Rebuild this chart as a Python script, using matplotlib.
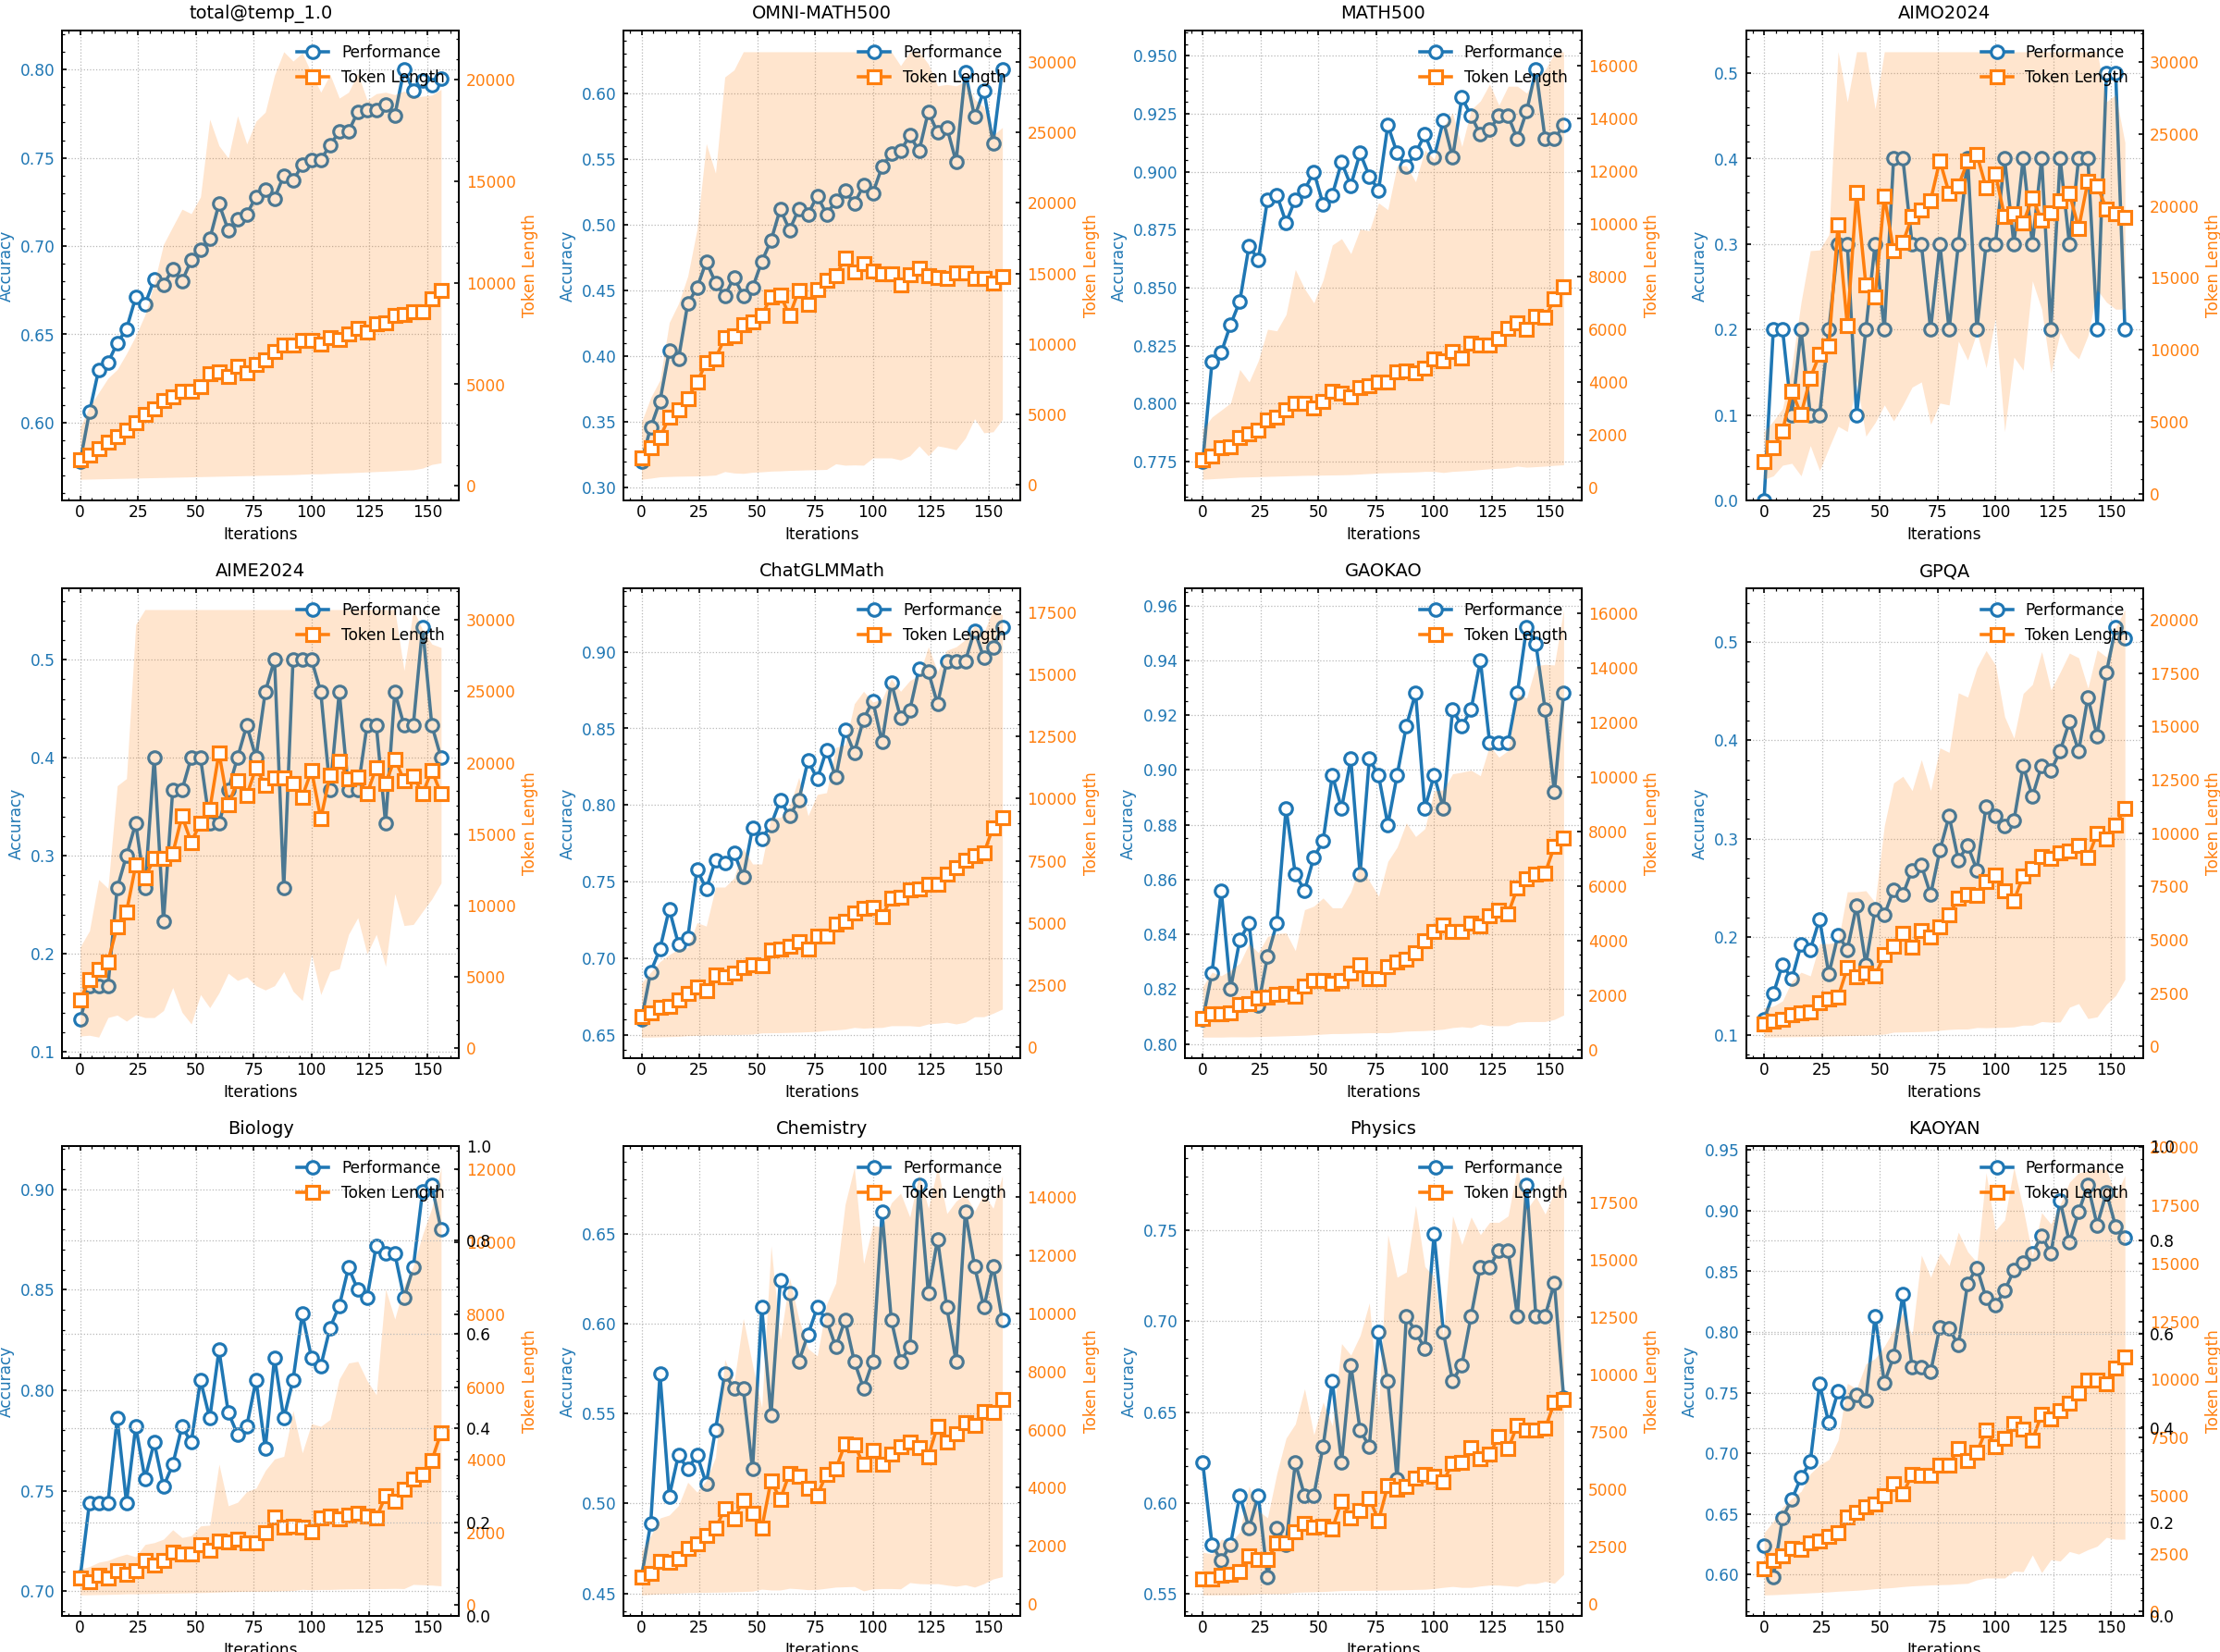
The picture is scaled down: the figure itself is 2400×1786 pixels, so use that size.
import matplotlib
matplotlib.use("Agg")
import matplotlib.pyplot as plt

BLUE = '#1f77b4'
ORANGE = '#ff7f0e'

iterations = [0, 4, 8, 12, 16, 20, 24, 28, 32, 36, 40, 44, 48, 52, 56, 60, 64, 68, 72, 76,
              80, 84, 88, 92, 96, 100, 104, 108, 112, 116, 120, 124, 128, 132, 136, 140, 144, 148, 152, 156]

# total@temp_1.0
acc_total = [0.578, 0.606, 0.630, 0.634, 0.645, 0.653, 0.671, 0.667, 0.681, 0.678, 0.687, 0.680, 0.692, 0.698, 0.704, 0.724, 0.709, 0.715, 0.718, 0.728,
             0.732, 0.727, 0.740, 0.737, 0.746, 0.749, 0.749, 0.757, 0.765, 0.765, 0.776, 0.777, 0.777, 0.780, 0.774, 0.800, 0.788, 0.794, 0.791, 0.795]
tok_total = [1300, 1540, 1820, 2180, 2420, 2770, 3130, 3500, 3780, 4210, 4400, 4680, 4660, 4900, 5530, 5610, 5390, 5870, 5580, 5960,
             6220, 6620, 6950, 6910, 7150, 7170, 7000, 7290, 7210, 7500, 7740, 7570, 7970, 8040, 8380, 8420, 8590, 8590, 9200, 9630]
tok_total_lo = [330, 340, 350, 360, 370, 380, 390, 400, 410, 420, 430, 440, 450, 460, 470, 480, 490, 500, 510, 520,
                530, 540, 550, 560, 580, 600, 600, 620, 640, 650, 670, 690, 710, 730, 750, 780, 800, 880, 1060, 1140]
tok_total_hi = [2880, 3900, 4600, 5300, 5730, 6510, 7380, 8420, 9980, 11880, 12750, 13610, 13390, 14220, 18030, 16730, 16120, 18200, 16820, 17940,
                18380, 20200, 21350, 20890, 21290, 20280, 19360, 20230, 19070, 19360, 20280, 18980, 19290, 19360, 19240, 19420, 19120, 19160, 19220, 19500]

# OMNI-MATH500
acc_omni = [0.320, 0.346, 0.366, 0.404, 0.398, 0.440, 0.452, 0.472, 0.456, 0.446, 0.460, 0.446, 0.452, 0.472, 0.488, 0.512, 0.496, 0.512, 0.508, 0.522,
            0.508, 0.518, 0.526, 0.516, 0.530, 0.524, 0.544, 0.554, 0.556, 0.568, 0.556, 0.586, 0.570, 0.574, 0.548, 0.616, 0.582, 0.602, 0.562, 0.618]
tok_omni = [1950, 2670, 3370, 4800, 5350, 6150, 7270, 8670, 8970, 10420, 10570, 11340, 11540, 11990, 13360, 13490, 11990, 13810, 12810, 13860,
            14490, 14840, 16090, 15110, 15710, 15160, 14960, 14960, 14210, 14890, 15390, 14840, 14710, 14640, 15010, 15010, 14640, 14660, 14310, 14760]
tok_omni_lo = [400, 480, 575, 600, 620, 630, 640, 660, 700, 950, 850, 820, 900, 930, 980, 1000, 1030, 1050, 1070, 1080,
               1100, 1500, 1400, 1420, 1400, 1920, 1920, 1920, 1770, 2070, 2770, 2070, 2770, 2650, 2500, 3320, 4700, 3700, 3770, 4650]
tok_omni_hi = [4450, 6200, 7440, 11520, 12860, 14810, 18110, 24200, 22110, 28930, 29430, 30720, 30720, 30720, 30720, 30720, 30720, 30720, 30720, 30720,
               30720, 30720, 30720, 30720, 30720, 30720, 30720, 30720, 29730, 30720, 30720, 29850, 28300, 28400, 28300, 28600, 27350, 26800, 24800, 25350]

# MATH500
acc_math = [0.775, 0.818, 0.822, 0.834, 0.844, 0.868, 0.862, 0.888, 0.890, 0.878, 0.888, 0.892, 0.900, 0.886, 0.890, 0.904, 0.894, 0.908, 0.898, 0.892,
            0.920, 0.908, 0.902, 0.908, 0.916, 0.906, 0.922, 0.906, 0.932, 0.924, 0.916, 0.918, 0.924, 0.924, 0.914, 0.926, 0.944, 0.914, 0.914, 0.920]
tok_math = [1030, 1200, 1510, 1530, 1870, 2030, 2160, 2560, 2670, 2930, 3170, 3200, 3010, 3250, 3660, 3590, 3440, 3800, 3840, 3980,
            4000, 4380, 4430, 4350, 4510, 4880, 4800, 5150, 4920, 5460, 5390, 5390, 5640, 6020, 6230, 6000, 6480, 6440, 7140, 7630]
tok_math_lo = [300, 320, 340, 360, 380, 390, 400, 410, 420, 430, 440, 450, 455, 460, 465, 470, 480, 500, 520, 540,
               550, 560, 570, 580, 600, 600, 560, 600, 620, 640, 670, 700, 720, 740, 800, 760, 780, 800, 830, 850]
tok_math_hi = [2200, 2670, 2930, 3200, 4470, 4000, 4800, 6000, 5940, 6560, 8270, 7540, 7000, 7870, 9200, 9440, 8870, 9800, 9740, 10800,
               10540, 12210, 12210, 11600, 12810, 12470, 13710, 14210, 12940, 14340, 14670, 15310, 14510, 15230, 15230, 14970, 15540, 15850, 16470, 16540]

# AIMO2024
acc_aimo = [0.0, 0.2, 0.2, 0.1, 0.2, 0.1, 0.1, 0.2, 0.3, 0.3, 0.1, 0.2, 0.3, 0.2, 0.4, 0.4, 0.3, 0.3, 0.2, 0.3,
            0.2, 0.3, 0.4, 0.2, 0.3, 0.3, 0.4, 0.3, 0.4, 0.3, 0.4, 0.2, 0.4, 0.3, 0.4, 0.4, 0.2, 0.5, 0.5, 0.2]
tok_aimo = [2240, 3200, 4340, 7120, 5500, 8040, 9660, 10250, 18680, 11660, 20950, 14540, 13680, 20660, 16890, 17450, 19280, 19720, 20390, 23150,
            20880, 21400, 23100, 23570, 21270, 22230, 19250, 19450, 18810, 20560, 19010, 19520, 20390, 20880, 18440, 21720, 21420, 19790, 19450, 19180]
tok_aimo_lo = [990, 1230, 1970, 2100, 1230, 3330, 1600, 3160, 4680, 4310, 7890, 3990, 4930, 6160, 5050, 6160, 7400, 7760, 4810, 6290,
               6160, 10600, 9290, 11220, 8750, 12200, 4310, 9490, 8580, 14790, 12820, 8380, 11220, 9980, 9370, 10970, 14170, 13310, 12820, 12820]
tok_aimo_hi = [4310, 5050, 5920, 8870, 13310, 16890, 16940, 18000, 30720, 27240, 30720, 30720, 26750, 30720, 30720, 30720, 30720, 30720, 30720, 30720,
               30720, 30720, 30720, 30720, 30720, 30720, 30720, 30720, 30720, 30720, 30720, 30720, 30720, 30720, 30720, 30720, 30720, 27240, 27730, 24400]

# AIME2024
acc_aime = [0.133, 0.167, 0.167, 0.167, 0.267, 0.300, 0.333, 0.267, 0.400, 0.233, 0.367, 0.367, 0.400, 0.400, 0.333, 0.333, 0.367, 0.400, 0.433, 0.400,
            0.467, 0.500, 0.267, 0.500, 0.500, 0.500, 0.467, 0.367, 0.467, 0.367, 0.367, 0.433, 0.433, 0.333, 0.467, 0.433, 0.433, 0.533, 0.433, 0.400]
tok_aime = [3400, 4810, 5550, 6070, 8530, 9540, 12820, 11950, 13310, 13310, 13630, 16260, 14430, 15790, 16710, 20700, 17030, 18720, 17720, 19630,
            18420, 18940, 18940, 18570, 17600, 19460, 16090, 19110, 20130, 18840, 19010, 17820, 19660, 18570, 20250, 18770, 19060, 17820, 19460, 17820]
tok_aime_lo = [870, 920, 790, 2160, 2330, 1910, 2360, 2160, 2160, 2650, 4260, 2530, 1710, 3770, 2850, 3890, 5260, 4760, 5010, 4390,
               4090, 4390, 5380, 4010, 3350, 6620, 3770, 5380, 5580, 7980, 9150, 6620, 7980, 5750, 10830, 8600, 8680, 9590, 10460, 11580]
tok_aime_hi = [7110, 8230, 11820, 11210, 18390, 18890, 29670, 30720, 30720, 30720, 30720, 30720, 30720, 30720, 30720, 30720, 30720, 30720, 30720, 30720,
               30720, 30720, 30720, 30720, 30720, 30720, 30720, 30720, 30720, 30720, 30720, 30720, 30720, 30720, 30720, 26450, 30720, 29300, 28310, 28060]

# ChatGLMMath
acc_glm = [0.660, 0.691, 0.706, 0.732, 0.709, 0.713, 0.758, 0.745, 0.764, 0.762, 0.769, 0.753, 0.785, 0.778, 0.787, 0.803, 0.793, 0.803, 0.829, 0.817,
           0.836, 0.818, 0.849, 0.834, 0.856, 0.868, 0.841, 0.880, 0.857, 0.862, 0.889, 0.887, 0.866, 0.894, 0.894, 0.894, 0.914, 0.896, 0.903, 0.916]
tok_glm = [1220, 1360, 1600, 1650, 1890, 2150, 2410, 2260, 2890, 2840, 2980, 3220, 3320, 3270, 3910, 3950, 4050, 4250, 3940, 4470,
           4470, 4940, 5060, 5400, 5590, 5610, 5260, 5990, 6040, 6330, 6370, 6540, 6540, 6970, 7220, 7530, 7690, 7800, 8840, 9220]
tok_glm_lo = [400, 400, 410, 420, 430, 460, 470, 480, 490, 495, 500, 510, 520, 570, 575, 580, 590, 600, 615, 630,
              670, 690, 720, 790, 760, 780, 790, 860, 860, 860, 830, 930, 960, 1000, 930, 1000, 1220, 1220, 1360, 1530]
tok_glm_hi = [2580, 3010, 3440, 3720, 3940, 4010, 5010, 4870, 6440, 6440, 6800, 8000, 7370, 7370, 9240, 9240, 9670, 10850, 9310, 10170,
              10240, 12060, 12170, 13820, 14320, 13890, 14000, 14820, 14320, 14750, 14960, 16110, 15110, 15970, 16110, 16400, 16970, 16680, 17610, 17400]

# GAOKAO
acc_gaokao = [0.809, 0.826, 0.856, 0.820, 0.838, 0.844, 0.814, 0.832, 0.844, 0.886, 0.862, 0.856, 0.868, 0.874, 0.898, 0.886, 0.904, 0.862, 0.904, 0.898,
              0.880, 0.898, 0.916, 0.928, 0.886, 0.898, 0.886, 0.922, 0.916, 0.922, 0.940, 0.910, 0.910, 0.910, 0.928, 0.952, 0.946, 0.922, 0.892, 0.928]
tok_gaokao = [1160, 1310, 1300, 1350, 1640, 1700, 1880, 1920, 2020, 2070, 1950, 2320, 2540, 2540, 2450, 2550, 2810, 3100, 2620, 2620,
              3050, 3210, 3320, 3550, 3990, 4320, 4580, 4320, 4320, 4630, 4520, 4910, 5110, 4990, 5920, 6280, 6430, 6480, 7450, 7750]
tok_gaokao_lo = [460, 460, 460, 470, 470, 470, 480, 490, 500, 510, 520, 530, 550, 570, 590, 590, 600, 610, 620, 620,
                 620, 650, 680, 690, 700, 720, 750, 810, 840, 810, 940, 880, 880, 880, 1010, 1030, 1030, 1030, 1110, 1270]
tok_gaokao_hi = [2320, 2840, 2710, 2910, 3170, 3890, 3560, 4150, 4250, 4280, 3630, 5130, 5260, 5560, 5200, 5200, 5780, 6770, 6180, 5620,
                 6900, 7420, 8310, 7810, 8100, 9490, 9520, 10110, 10170, 10240, 10040, 11150, 10720, 10960, 13050, 12890, 14070, 14120, 14100, 16130]

# GPQA
acc_gpqa = [0.116, 0.142, 0.172, 0.157, 0.192, 0.187, 0.218, 0.162, 0.202, 0.187, 0.232, 0.172, 0.228, 0.222, 0.248, 0.243, 0.268, 0.273, 0.243, 0.288,
            0.323, 0.278, 0.293, 0.268, 0.333, 0.323, 0.313, 0.318, 0.374, 0.343, 0.374, 0.369, 0.389, 0.419, 0.389, 0.444, 0.404, 0.469, 0.515, 0.504]
tok_gpqa = [1050, 1170, 1260, 1470, 1590, 1640, 2040, 2230, 2310, 3680, 3280, 3420, 3310, 4320, 4690, 5320, 4650, 5440, 5120, 5620,
            6160, 6950, 7130, 7060, 7730, 8040, 7300, 6830, 7970, 8340, 8910, 8810, 9070, 9160, 9420, 8840, 9980, 9740, 10380, 11150]
tok_gpqa_lo = [440, 450, 455, 460, 465, 470, 480, 490, 500, 510, 520, 530, 550, 580, 670, 680, 690, 700, 720, 760,
               800, 820, 820, 890, 880, 890, 900, 920, 1000, 1000, 1170, 1140, 1150, 1840, 2010, 1310, 1390, 1980, 2390, 3150]
tok_gpqa_hi = [1810, 1890, 2140, 3060, 3480, 3310, 4820, 4820, 4900, 7250, 7250, 7300, 6750, 10350, 12350, 12660, 11990, 13440, 11990, 13990,
               13780, 16570, 16370, 17740, 18550, 17880, 15450, 14450, 16540, 16960, 18500, 16710, 17540, 18430, 18210, 16790, 18580, 18250, 19640, 20470]

# Biology
acc_bio = [0.707, 0.744, 0.744, 0.744, 0.786, 0.744, 0.782, 0.756, 0.774, 0.752, 0.763, 0.782, 0.774, 0.805, 0.786, 0.820, 0.789, 0.778, 0.782, 0.805,
           0.771, 0.816, 0.786, 0.805, 0.838, 0.816, 0.812, 0.831, 0.842, 0.861, 0.850, 0.846, 0.872, 0.868, 0.868, 0.846, 0.861, 0.899, 0.902, 0.880]
tok_bio = [750, 650, 815, 750, 940, 845, 940, 1230, 1115, 1230, 1455, 1405, 1415, 1670, 1500, 1765, 1745, 1815, 1705, 1705,
           1990, 2425, 2155, 2180, 2155, 2010, 2395, 2445, 2375, 2475, 2520, 2445, 2395, 3005, 2860, 3190, 3460, 3590, 3980, 4750]
tok_bio_lo = [280, 285, 290, 295, 300, 310, 310, 315, 320, 325, 330, 335, 340, 345, 350, 360, 370, 375, 380, 380,
              385, 390, 395, 400, 435, 420, 430, 430, 440, 445, 450, 450, 455, 455, 460, 455, 570, 560, 550, 530]
tok_bio_hi = [990, 1060, 1180, 1230, 1330, 1405, 1330, 1670, 1720, 1815, 2075, 1860, 1910, 2180, 2200, 3880, 2735, 2830, 3125, 3220,
              3705, 4025, 4095, 5355, 4190, 4995, 4920, 5110, 6225, 6665, 6710, 6180, 5790, 8700, 7875, 8800, 9330, 10200, 10930, 12050]

# Chemistry
acc_chem = [0.459, 0.489, 0.572, 0.504, 0.527, 0.519, 0.527, 0.511, 0.541, 0.572, 0.564, 0.564, 0.519, 0.609, 0.549, 0.624, 0.617, 0.579, 0.594, 0.609,
            0.602, 0.587, 0.602, 0.579, 0.564, 0.579, 0.662, 0.602, 0.579, 0.587, 0.677, 0.617, 0.647, 0.609, 0.579, 0.662, 0.632, 0.609, 0.632, 0.602]
tok_chem = [920, 1040, 1470, 1430, 1560, 1900, 2080, 2350, 2600, 3270, 2940, 3580, 3120, 2600, 4250, 3600, 4500, 4410, 3980, 3740,
            4470, 4640, 5510, 5480, 4800, 5290, 4800, 5170, 5410, 5570, 5390, 5080, 6130, 5560, 5870, 6250, 6150, 6620, 6580, 7040]
tok_chem_lo = [310, 330, 350, 360, 370, 390, 395, 400, 405, 410, 420, 430, 440, 510, 480, 480, 540, 520, 490, 500,
               540, 580, 590, 600, 450, 520, 530, 530, 520, 735, 700, 690, 700, 650, 610, 660, 580, 700, 860, 940]
tok_chem_hi = [1800, 2350, 2960, 3060, 3390, 4190, 3850, 4250, 5050, 8420, 7620, 9830, 8230, 6760, 12330, 9100, 11230, 9830, 8790, 8540,
               10320, 11050, 13750, 15030, 11720, 13030, 12980, 13810, 14140, 13320, 14790, 13620, 15030, 13440, 13870, 14110, 13520, 14110, 13620, 14750]

# Physics
acc_phys = [0.622, 0.577, 0.568, 0.577, 0.604, 0.586, 0.604, 0.559, 0.586, 0.577, 0.622, 0.604, 0.604, 0.631, 0.667, 0.622, 0.676, 0.640, 0.631, 0.694,
            0.667, 0.613, 0.703, 0.694, 0.685, 0.748, 0.694, 0.667, 0.676, 0.703, 0.730, 0.730, 0.739, 0.739, 0.703, 0.775, 0.703, 0.703, 0.721, 0.658]
tok_phys = [1080, 1070, 1240, 1270, 1390, 2070, 1920, 1920, 2630, 2630, 3120, 3510, 3340, 3390, 3250, 4470, 3740, 4080, 4590, 3620,
            5160, 4980, 5130, 5490, 5640, 5570, 5320, 6140, 6170, 6790, 6340, 6520, 7300, 6760, 7790, 7580, 7580, 7650, 8770, 8890]
tok_phys_lo = [370, 370, 375, 380, 380, 390, 420, 420, 420, 430, 490, 500, 510, 520, 540, 560, 560, 570, 570, 580,
               580, 590, 600, 610, 620, 650, 700, 740, 700, 700, 760, 800, 800, 770, 740, 870, 870, 960, 880, 1270]
tok_phys_hi = [2240, 2160, 2810, 2660, 3120, 5130, 4050, 3740, 5670, 7220, 7840, 9380, 7370, 8800, 7760, 11350, 10850, 11700, 13130, 8530,
               16110, 14250, 14480, 17380, 14720, 14250, 11700, 16930, 15680, 16880, 16110, 16650, 16650, 16930, 19050, 17190, 17780, 17010, 17960, 18690]

# KAOYAN
acc_kaoyan = [0.624, 0.598, 0.647, 0.662, 0.680, 0.693, 0.757, 0.725, 0.751, 0.741, 0.748, 0.744, 0.813, 0.758, 0.780, 0.831, 0.771, 0.771, 0.767, 0.804,
              0.803, 0.789, 0.840, 0.853, 0.828, 0.822, 0.834, 0.851, 0.857, 0.865, 0.879, 0.865, 0.908, 0.874, 0.899, 0.921, 0.888, 0.915, 0.887, 0.878]
tok_kaoyan = [1830, 2210, 2410, 2710, 2700, 2970, 3050, 3250, 3400, 4080, 4280, 4500, 4620, 5010, 5530, 5060, 5910, 5870, 5880, 6290,
              6320, 7040, 6510, 6860, 7820, 7120, 7470, 8120, 7850, 7390, 8490, 8310, 8660, 8960, 9430, 9980, 9980, 9800, 10470, 10970]
tok_kaoyan_lo = [720, 730, 750, 770, 790, 810, 830, 850, 880, 900, 920, 950, 990, 1010, 1040, 1080, 1110, 1130, 1150, 1160,
                 1170, 1200, 1220, 1370, 1450, 1450, 1450, 1750, 1720, 2440, 1680, 2240, 2180, 2590, 2480, 2670, 2820, 3200, 3120, 3120]
tok_kaoyan_hi = [3400, 3890, 4500, 4880, 5180, 5940, 6320, 6550, 7390, 9830, 9600, 10670, 10900, 11430, 12120, 12880, 11890, 15350, 14400, 15440,
                 14900, 16340, 15500, 15040, 18900, 16410, 16870, 19130, 17370, 15320, 17180, 16690, 17530, 18490, 18900, 18970, 19050, 19050, 17910, 18780]

titles = ['total@temp_1.0', 'OMNI-MATH500', 'MATH500', 'AIMO2024',
          'AIME2024', 'ChatGLMMath', 'GAOKAO', 'GPQA',
          'Biology', 'Chemistry', 'Physics', 'KAOYAN']
panels = [
    (acc_total, tok_total, tok_total_lo, tok_total_hi),
    (acc_omni, tok_omni, tok_omni_lo, tok_omni_hi),
    (acc_math, tok_math, tok_math_lo, tok_math_hi),
    (acc_aimo, tok_aimo, tok_aimo_lo, tok_aimo_hi),
    (acc_aime, tok_aime, tok_aime_lo, tok_aime_hi),
    (acc_glm, tok_glm, tok_glm_lo, tok_glm_hi),
    (acc_gaokao, tok_gaokao, tok_gaokao_lo, tok_gaokao_hi),
    (acc_gpqa, tok_gpqa, tok_gpqa_lo, tok_gpqa_hi),
    (acc_bio, tok_bio, tok_bio_lo, tok_bio_hi),
    (acc_chem, tok_chem, tok_chem_lo, tok_chem_hi),
    (acc_phys, tok_phys, tok_phys_lo, tok_phys_hi),
    (acc_kaoyan, tok_kaoyan, tok_kaoyan_lo, tok_kaoyan_hi),
]
# these two panels carry a stray empty twin axis (0..1) in the original
extra_axis = ['Biology', 'KAOYAN']

plt.rcParams.update({
    'font.size': 8.2,
    'axes.titlesize': 9.3,
    'axes.labelsize': 8.2,
    'xtick.labelsize': 8.2,
    'ytick.labelsize': 8.2,
    'legend.fontsize': 8.2,
    'axes.linewidth': 0.9,
    'xtick.direction': 'in',
    'ytick.direction': 'in',
    'xtick.top': True,
    'xtick.minor.visible': True,
    'ytick.minor.visible': True,
    'xtick.major.size': 2.6,
    'ytick.major.size': 2.6,
    'xtick.minor.size': 1.4,
    'ytick.minor.size': 1.4,
    'xtick.major.width': 0.8,
    'ytick.major.width': 0.8,
    'xtick.minor.width': 0.6,
    'ytick.minor.width': 0.6,
    'xtick.major.pad': 1.8,
    'axes.labelpad': 3.0,
})


def plot_panel(ax, title, acc, tok, lo, hi, extra=False):
    ax2 = ax.twinx()
    l1, = ax.plot(iterations, acc, '-o', color=BLUE, lw=1.7, ms=6.5,
                  mfc='white', mew=1.5, label='Performance')
    ax2.fill_between(iterations, lo, hi, color=ORANGE, alpha=0.2, lw=0)
    l2, = ax2.plot(iterations, tok, '-s', color=ORANGE, lw=1.7, ms=6.5,
                   mfc='white', mew=1.5, label='Token Length')

    span = max(acc) - min(acc)
    ax.set_ylim(max(0, min(acc) - 0.1 * span), max(acc) + 0.1 * span)

    ax.set_title(title)
    ax.set_xlabel('Iterations')
    ax.set_ylabel('Accuracy', color=BLUE)
    ax2.set_ylabel('Token Length', color=ORANGE)
    ax.tick_params(axis='y', which='both', labelcolor=BLUE)
    ax2.tick_params(axis='y', which='both', labelcolor=ORANGE)
    ax.grid(True, ls=':', color='#b8b8b8', lw=0.6)

    if extra:
        ax3 = ax.twinx()
        ax3.grid(True, ls=':', color='#b8b8b8', lw=0.6)

    ax2.legend(handles=[l1, l2], loc='upper right', frameon=False)


fig, axes = plt.subplots(3, 4, figsize=(16, 11.907), dpi=150)
plt.subplots_adjust(left=0.028, right=0.9653, bottom=0.0216, top=0.9816,
                    wspace=0.414, hspace=0.186)

for ax, title, (acc, tok, lo, hi) in zip(axes.flat, titles, panels):
    plot_panel(ax, title, acc, tok, lo, hi, extra=title in extra_axis)

plt.savefig('out.png', dpi=150)
